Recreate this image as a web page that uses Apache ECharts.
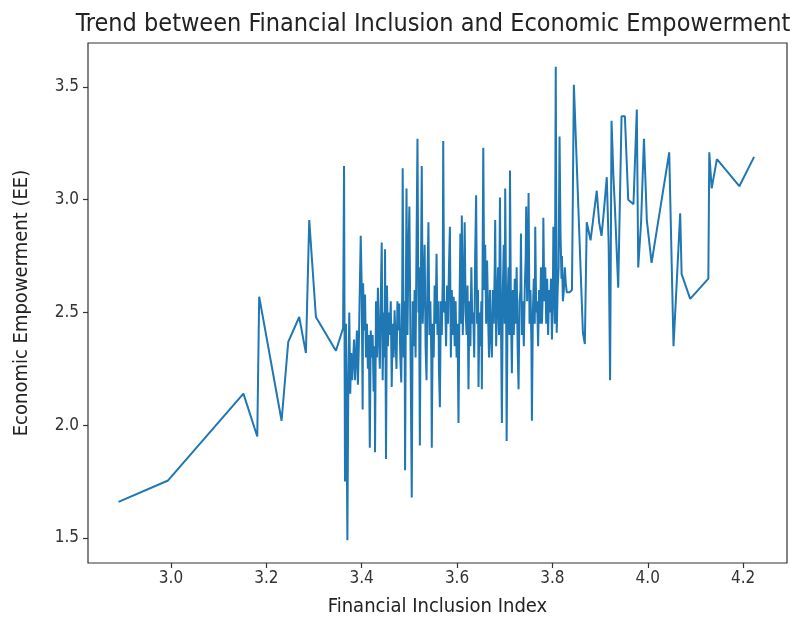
<!DOCTYPE html>
<html>
<head>
<meta charset="utf-8">
<script src="https://cdn.jsdelivr.net/npm/echarts@6/dist/echarts.min.js"></script>
<style>html,body{margin:0;padding:0;background:#fff}#c{width:811px;height:624px}</style>
</head>
<body>
<div id="c"></div>
<script>
// Financial Inclusion Index (x, sorted) and Economic Empowerment (y)
const fii = [
2.890,2.994,3.152,3.181,3.185,3.232,3.246,3.269,3.283,3.290,3.304,3.346,3.361,3.363,
3.365,3.367,3.370,3.372,3.374,3.376,3.378,3.380,3.382,3.384,
3.386,3.388,3.390,3.392,3.394,3.396,3.398,3.400,3.402,3.403,
3.405,3.407,3.409,3.411,3.413,3.415,3.417,3.419,3.421,3.423,
3.425,3.427,3.428,3.430,3.432,3.434,3.436,3.438,3.440,3.442,
3.444,3.446,3.448,3.449,3.451,
3.453,3.455,3.457,3.459,3.461,3.463,3.465,3.467,3.469,3.471,
3.473,3.475,3.477,3.479,3.481,3.483,3.485,3.486,3.488,3.490,
3.491,3.493,3.494,3.496,3.498,3.500,3.502,3.503,3.505,3.507,
3.509,3.511,3.513,3.515,3.517,3.519,3.520,3.522,3.524,3.526,
3.528,3.530,3.532,3.534,3.536,3.538,3.540,3.542,3.544,3.546,
3.547,3.549,
3.551,3.553,3.555,3.557,3.559,3.561,3.562,3.564,3.566,3.568,
3.570,3.571,3.573,3.575,3.577,3.579,3.581,3.583,3.585,3.587,
3.589,3.591,3.593,3.595,3.597,3.599,3.601,3.603,3.605,3.607,
3.609,3.610,3.612,3.614,3.616,3.618,3.620,3.622,3.624,3.626,
3.628,3.630,3.632,3.634,3.636,3.638,3.640,3.642,3.644,3.645,
3.647,3.649,3.651,3.652,
3.655,3.657,3.659,3.661,3.663,3.665,3.667,3.669,3.671,3.673,
3.675,3.677,3.679,3.680,3.682,3.684,3.686,3.688,3.690,3.692,
3.694,3.696,3.698,3.700,3.701,3.703,3.704,3.706,3.708,3.710,
3.711,3.713,3.715,3.717,3.719,3.721,3.723,3.725,3.727,3.729,
3.731,3.733,3.734,3.736,3.738,3.740,3.742,3.744,3.745,3.747,
3.749,3.750,
3.752,3.754,3.756,3.757,3.759,3.761,3.763,3.764,3.766,3.768,
3.770,3.772,3.774,3.776,3.778,3.780,3.781,3.783,3.785,3.787,
3.789,3.791,3.793,3.795,3.797,3.799,3.801,3.802,3.804,3.805,
3.807,3.809,3.811,3.813,3.815,3.817,3.819,3.820,3.822,3.824,
3.826,3.828,3.830,3.836,3.841,3.845,
3.864,3.868,3.872,3.880,3.893,3.898,3.903,3.908,3.914,3.918,
3.921,3.924,3.928,3.931,3.938,3.945,3.952,3.956,3.959,3.970,
3.977,3.980,3.986,3.992,3.998,4.008,4.045,4.054,4.068,4.071,
4.089,4.127,4.129,4.134,4.145,4.192,4.223
];
const ee = [
1.66,1.755,2.14,1.95,2.57,2.02,2.37,2.48,2.32,2.91,2.48,2.33,2.43,3.15,
1.75,2.45,1.49,2.22,2.50,2.14,2.32,2.20,2.29,2.38,
2.20,2.30,2.42,2.18,2.35,2.60,2.84,2.62,2.07,2.63,
2.42,2.58,2.30,2.45,2.25,2.40,1.90,2.42,2.30,2.40,
2.15,2.35,1.88,2.55,2.30,2.61,2.40,2.25,2.55,2.81,
2.20,2.50,2.30,2.78,1.85,
2.62,2.35,2.50,2.40,2.55,2.17,2.45,2.30,2.51,2.38,
2.25,2.55,2.42,2.54,2.30,2.19,2.60,3.14,2.30,2.55,
1.80,2.70,3.05,2.40,2.75,2.97,2.45,2.20,1.68,2.55,
2.35,2.60,2.30,2.80,3.27,2.50,2.70,1.91,2.60,3.15,
2.45,2.60,2.80,2.35,2.20,2.65,2.90,2.40,2.55,2.30,
1.90,2.45,
2.30,2.62,2.45,2.76,2.40,2.55,2.25,2.08,2.55,2.40,
2.65,3.26,2.50,2.55,2.35,2.62,2.45,2.70,2.88,2.30,
2.60,2.40,2.57,2.35,2.55,2.30,2.45,2.01,2.50,2.85,
2.45,2.93,2.40,2.60,2.90,2.50,2.40,2.62,2.16,2.55,
2.35,2.70,2.45,2.50,2.30,2.75,3.02,2.45,2.60,2.17,
2.50,2.35,2.55,2.16,
3.23,2.60,2.80,2.45,2.73,2.50,2.30,2.60,2.40,2.30,
2.60,2.45,2.70,2.91,2.35,2.55,2.70,2.40,3.01,2.50,
2.01,2.60,2.80,2.45,3.05,2.50,1.93,2.55,2.70,2.40,
3.13,2.50,2.23,2.60,2.40,2.65,2.45,2.70,2.35,2.16,
2.55,2.60,2.85,2.40,2.55,2.35,2.60,2.75,2.97,2.55,
2.80,3.03,
2.45,2.60,2.35,2.02,2.50,2.65,2.45,2.88,2.50,2.55,
2.35,2.60,2.45,2.70,2.45,2.60,2.92,2.55,2.70,2.45,
2.65,2.40,2.60,2.50,2.65,2.38,2.60,2.88,2.60,2.45,
3.59,2.41,2.60,2.70,3.28,2.85,2.65,2.75,2.55,2.60,
2.70,2.63,2.59,2.59,2.60,3.51,
2.41,2.36,2.90,2.82,3.04,2.90,2.84,2.95,3.10,2.80,
2.20,3.35,3.10,2.97,2.61,3.37,3.37,3.37,3.00,2.98,
3.40,2.70,2.90,3.27,2.91,2.72,3.21,2.35,2.94,2.67,
2.56,2.65,3.21,3.05,3.18,3.06,3.19
];
const xTicks = [3.0, 3.2, 3.4, 3.6, 3.8, 4.0, 4.2];
const yTicks = [1.5, 2.0, 2.5, 3.0, 3.5];
const titleText = 'Trend between Financial Inclusion and Economic Empowerment';
const xName = 'Financial Inclusion Index';
const yName = 'Economic Empowerment (EE)';

if (fii.length !== ee.length) console.error('length mismatch', fii.length, ee.length);

const chart = echarts.init(document.getElementById('c'), null, {renderer: 'canvas'});
const font = 'DejaVu Sans Condensed, DejaVu Sans';
const data = fii.map((x, i) => [x, ee[i]]);
chart.setOption({
  animation: false,
  backgroundColor: '#fff',
  title: {
    text: titleText,
    left: 428, top: 7, textAlign: 'center',
    textStyle: {fontFamily: font, fontSize: 25, fontWeight: 'normal', color: '#222'}
  },
  grid: {left: 88, right: 24, top: 43, bottom: 61, show: true, borderColor: '#333', borderWidth: 1.2, backgroundColor: 'transparent'},
  xAxis: {
    type: 'value', min: 2.826, max: 4.292,
    name: xName, nameLocation: 'middle', nameGap: 34,
    nameTextStyle: {fontFamily: font, fontSize: 20, color: '#222'},
    axisLine: {show: false},
    axisTick: {show: true, length: 5, inside: false, customValues: xTicks, lineStyle: {color: '#333', width: 1.2}},
    axisLabel: {customValues: xTicks, formatter: v => v.toFixed(1), fontFamily: font, fontSize: 17, color: '#333', margin: 7},
    splitLine: {show: false}
  },
  yAxis: {
    type: 'value', min: 1.389, max: 3.695,
    name: yName, nameLocation: 'middle', nameGap: 56,
    nameTextStyle: {fontFamily: font, fontSize: 20, color: '#222'},
    axisLine: {show: false},
    axisTick: {show: true, length: 5, inside: false, customValues: yTicks, lineStyle: {color: '#333', width: 1.2}},
    axisLabel: {customValues: yTicks, formatter: v => v.toFixed(1), fontFamily: font, fontSize: 17, color: '#333', margin: 9},
    splitLine: {show: false}
  },
  series: [{
    type: 'line', data: data, showSymbol: false, symbol: 'none',
    lineStyle: {color: '#1f77b4', width: 2}, clip: true
  }]
});
</script>
</body>
</html>
